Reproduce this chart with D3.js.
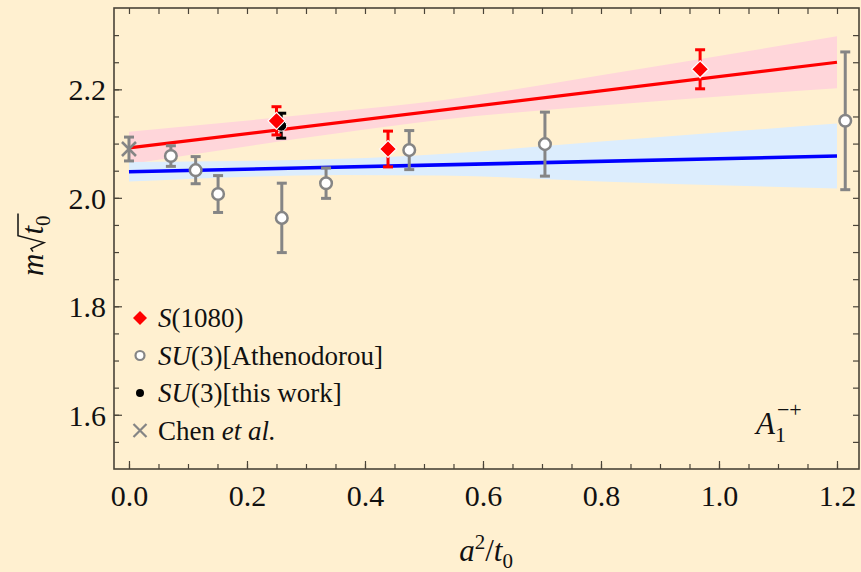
<!DOCTYPE html>
<html>
<head>
<meta charset="utf-8">
<script src="https://cdn.jsdelivr.net/npm/d3@7"></script>
<style>
  html, body { margin: 0; padding: 0; background: #fff0d0; }
  svg { display: block; }
  text { font-family: "Liberation Serif", "DejaVu Serif", serif; fill: #111; }
</style>
</head>
<body>
<svg id="chart" width="861" height="572"></svg>
<script>
// S(1080) points
const s1080X = [0.250, 0.439, 0.968];
const s1080Y = [2.142, 2.090, 2.237];
const s1080Err = [0.026, 0.033, 0.036];

// SU(3) Athenodorou points
const athX = [0.071, 0.113, 0.151, 0.259, 0.334, 0.475, 0.705, 1.214];
const athY = [2.077, 2.051, 2.007, 1.963, 2.027, 2.088, 2.099, 2.142];
const athErr = [0.019, 0.025, 0.034, 0.064, 0.028, 0.036, 0.059, 0.127];

// SU(3) this work
const thisX = [0.258];
const thisY = [2.133];
const thisErr = [0.023];

// Chen et al. (continuum)
const chenX = [0];
const chenY = [2.090];
const chenErr = [0.022];

// fit lines and error bands
const fitX = [0, 1.2];
const redFitY = [2.092, 2.250];
const blueFitY = [2.048, 2.077];
const bandX = [0, 0.36, 0.53, 0.8, 1.2];
const redLo = [2.062, 2.120, 2.144, 2.170, 2.202];
const redHi = [2.122, 2.160, 2.180, 2.226, 2.298];
const blueLo = [2.030, 2.042, 2.041, 2.030, 2.017];
const blueHi = [2.066, 2.072, 2.081, 2.104, 2.137];

// ticks
const xTicks = [0, 0.2, 0.4, 0.6, 0.8, 1.0, 1.2];
const yTicks = [1.6, 1.8, 2.0, 2.2];

const svg = d3.select("#chart");
const margin = {top: 8, right: 2, bottom: 103, left: 114};
const W = 861, H = 572;

const x = d3.scaleLinear().domain([-0.0254, 1.2373]).range([margin.left, W - margin.right]);
const y = d3.scaleLinear().domain([1.5, 2.35]).range([H - margin.bottom, margin.top]);

const frameColor = "#4a4438";

// clip to plot area
svg.append("clipPath").attr("id", "clip")
    .append("rect")
    .attr("x", margin.left).attr("y", margin.top)
    .attr("width", W - margin.left - margin.right)
    .attr("height", H - margin.top - margin.bottom);

const plot = svg.append("g").attr("clip-path", "url(#clip)");

// Bands
function band(lo, hi) {
    return d3.area()
        .x((d, i) => x(bandX[i]))
        .y0((d, i) => y(lo[i]))
        .y1((d, i) => y(hi[i]))
        .curve(d3.curveMonotoneX)(bandX);
}
plot.append("path").attr("d", band(redLo, redHi)).attr("fill", "#ffd6da");
plot.append("path").attr("d", band(blueLo, blueHi)).attr("fill", "#dcedfd");

// Fit lines
function fitLine(vals) {
    return d3.line().x((d, i) => x(fitX[i])).y((d, i) => y(vals[i]))(fitX);
}
plot.append("path").attr("d", fitLine(redFitY)).attr("fill", "none")
    .attr("stroke", "#ff0000").attr("stroke-width", 3.2);
plot.append("path").attr("d", fitLine(blueFitY)).attr("fill", "none")
    .attr("stroke", "#0000ff").attr("stroke-width", 3.6);

// Error bars
function errorBars(xs, ys, errs, color, cap) {
    const g = plot.append("g").attr("stroke", color).attr("stroke-width", 3);
    xs.forEach((xv, i) => {
        const cx = x(xv), top = y(ys[i] + errs[i]), bot = y(ys[i] - errs[i]);
        g.append("line").attr("x1", cx).attr("x2", cx).attr("y1", top).attr("y2", bot);
        g.append("line").attr("x1", cx - cap).attr("x2", cx + cap).attr("y1", top).attr("y2", top);
        g.append("line").attr("x1", cx - cap).attr("x2", cx + cap).attr("y1", bot).attr("y2", bot);
    });
}

errorBars(athX, athY, athErr, "#858585", 5);
errorBars(chenX, chenY, chenErr, "#858585", 5);

// Athenodorou circles
plot.selectAll(".ath").data(athX).enter().append("circle")
    .attr("cx", d => x(d)).attr("cy", (d, i) => y(athY[i]))
    .attr("r", 5.8).attr("fill", "#fff").attr("stroke", "#858585").attr("stroke-width", 2.5);

// Chen cross
chenX.forEach((xv, i) => {
    const cx = x(xv), cy = y(chenY[i]), s = 7;
    plot.append("path")
        .attr("d", `M${cx - s},${cy - s}L${cx + s},${cy + s}M${cx - s},${cy + s}L${cx + s},${cy - s}`)
        .attr("stroke", "#858585").attr("stroke-width", 2.6).attr("fill", "none");
});

// this work
errorBars(thisX, thisY, thisErr, "#000", 5);
plot.selectAll(".this").data(thisX).enter().append("circle")
    .attr("cx", d => x(d)).attr("cy", (d, i) => y(thisY[i]))
    .attr("r", 5.5).attr("fill", "#000").attr("stroke", "#fff").attr("stroke-width", 1);

// S(1080)
errorBars(s1080X, s1080Y, s1080Err, "#ff0000", 5);
const diamond = (cx, cy, s) => `M${cx},${cy - s}L${cx + s},${cy}L${cx},${cy + s}L${cx - s},${cy}Z`;
plot.selectAll(".s1080").data(s1080X).enter().append("path")
    .attr("d", (d, i) => diamond(x(d), y(s1080Y[i]), 8.5))
    .attr("fill", "#ff0000").attr("stroke", "#fff").attr("stroke-width", 1.2);

// Axes: ticks inward on all four sides
const minorX = d3.range(0, 1.2001, 0.05);
const minorY = d3.range(1.5, 2.3501, 0.05).filter(v => v > 1.501 && v < 2.349);

function addAxis(axis, transform, labels) {
    const g = svg.append("g").attr("transform", transform).call(axis);
    g.select(".domain").remove();
    g.selectAll(".tick line").attr("stroke", frameColor).attr("stroke-width", 1.2);
    g.selectAll("text").style("font-size", "30px").style("font-family", '"Liberation Serif", serif').attr("fill", "#111");
    if (!labels) g.selectAll("text").remove();
    return g;
}

// bottom
addAxis(d3.axisBottom(x).tickValues(minorX).tickSize(-5).tickFormat(""), `translate(0,${y(1.5)})`, false);
addAxis(d3.axisBottom(x).tickValues(xTicks).tickSize(-8).tickPadding(16).tickFormat(d3.format(".1f")), `translate(0,${y(1.5)})`, true);
// top
addAxis(d3.axisTop(x).tickValues(minorX).tickSize(-6).tickFormat(""), `translate(0,${y(2.35)})`, false);
// left
addAxis(d3.axisLeft(y).tickValues(minorY).tickSize(-5).tickFormat(""), `translate(${x(-0.0254)},0)`, false);
addAxis(d3.axisLeft(y).tickValues(yTicks).tickSize(-8).tickPadding(8).tickFormat(d3.format(".1f")), `translate(${x(-0.0254)},0)`, true)
    .selectAll("text").attr("dy", "0.35em");
// right
addAxis(d3.axisRight(y).tickValues(minorY).tickSize(-6).tickFormat(""), `translate(${x(1.2373)},0)`, false);

// frame
svg.append("rect")
    .attr("x", margin.left).attr("y", margin.top)
    .attr("width", W - margin.left - margin.right)
    .attr("height", H - margin.top - margin.bottom)
    .attr("fill", "none").attr("stroke", frameColor).attr("stroke-width", 1.6);

// x axis title: a^2/t_0
const xt = svg.append("text").attr("x", 486).attr("y", 561)
    .attr("text-anchor", "middle").style("font-size", "31px");
xt.append("tspan").style("font-style", "italic").text("a");
xt.append("tspan").attr("dy", -12).style("font-size", "21px").text("2");
xt.append("tspan").attr("dy", 12).text("/");
xt.append("tspan").style("font-style", "italic").text("t");
xt.append("tspan").attr("dy", 7).style("font-size", "21px").text("0");

// y axis title: m sqrt(t_0), radical drawn as a path
const yg = svg.append("g").attr("transform", "translate(43,236) rotate(-90)");
const mText = yg.append("text").attr("x", -40).attr("y", 0).style("font-size", "31px")
    .style("font-style", "italic").text("m");
const mW = mText.node().getComputedTextLength();
const r0 = -40 + mW + 2;
const tText = yg.append("text").attr("x", r0 + 17).attr("y", 0).style("font-size", "31px");
tText.append("tspan").style("font-style", "italic").text("t");
tText.append("tspan").attr("dy", 7).style("font-size", "21px").text("0");
const tW = tText.node().getComputedTextLength();
yg.append("path")
    .attr("d", `M${r0},-10L${r0 + 3},-12L${r0 + 9},1L${r0 + 16},-25L${r0 + 17 + tW + 2},-25`)
    .attr("fill", "none").attr("stroke", "#111").attr("stroke-width", 1.5);

// A1^{-+} label
const al = svg.append("text").attr("x", 756).attr("y", 434).style("font-size", "31px");
al.append("tspan").style("font-style", "italic").text("A");
al.append("tspan").attr("dy", 8).style("font-size", "22px").text("1");
al.append("tspan").attr("dx", -9).attr("dy", -25).style("font-size", "22px").text("−+");

// Legend
const legendRows = [
    {type: "diamond", parts: [["S", true], ["(1080)", false]]},
    {type: "circle", parts: [["SU", true], ["(3)[Athenodorou]", false]]},
    {type: "dot", parts: [["SU", true], ["(3)[this work]", false]]},
    {type: "cross", parts: [["Chen ", false], ["et al.", true]]}
];
const legend = svg.append("g");
legendRows.forEach((row, i) => {
    const cy = 318 + i * 37.5, cx = 140;
    if (row.type === "diamond") {
        legend.append("path").attr("d", diamond(cx, cy, 7)).attr("fill", "#ff0000");
    } else if (row.type === "circle") {
        legend.append("circle").attr("cx", cx).attr("cy", cy).attr("r", 4.5)
            .attr("fill", "#fff").attr("stroke", "#858585").attr("stroke-width", 2.2);
    } else if (row.type === "dot") {
        legend.append("circle").attr("cx", cx).attr("cy", cy).attr("r", 4).attr("fill", "#000");
    } else {
        const s = 6.5;
        legend.append("path")
            .attr("d", `M${cx - s},${cy - s}L${cx + s},${cy + s}M${cx - s},${cy + s}L${cx + s},${cy - s}`)
            .attr("stroke", "#858585").attr("stroke-width", 2.2);
    }
    const t = legend.append("text").attr("x", 158).attr("y", cy + 9).style("font-size", "27px");
    row.parts.forEach(p => {
        t.append("tspan").style("font-style", p[1] ? "italic" : "normal").text(p[0]);
    });
});
</script>
</body>
</html>
